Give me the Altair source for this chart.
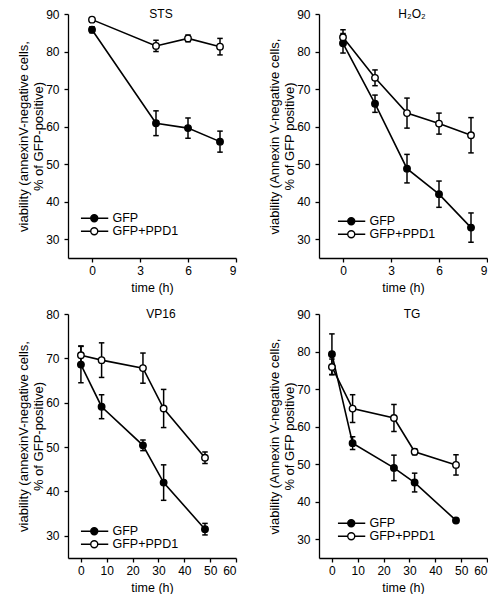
import altair as alt
import pandas as pd

series = ["GFP", "GFP+PPD1"]

sts_time = [0, 4, 6, 8]
sts_gfp = [85.8, 60.9, 59.6, 56.0]
sts_gfp_err = [0.8, 3.3, 2.7, 2.8]
sts_ppd1 = [88.5, 81.5, 83.5, 81.3]
sts_ppd1_err = [0.5, 1.5, 0.9, 2.2]

h2o2_time = [0, 2, 4, 6, 8]
h2o2_gfp = [82.2, 66.1, 48.8, 42.0, 33.1]
h2o2_gfp_err = [2.6, 2.3, 3.8, 3.5, 3.9]
h2o2_ppd1 = [83.8, 73.0, 63.6, 60.8, 57.7]
h2o2_ppd1_err = [2.0, 2.1, 4.0, 2.8, 4.7]

vp16_time = [0, 8, 24, 32, 48]
vp16_gfp = [68.6, 59.1, 50.4, 42.0, 31.5]
vp16_gfp_err = [4.1, 2.7, 1.2, 4.0, 1.3]
vp16_ppd1 = [70.7, 69.6, 67.8, 58.7, 47.6]
vp16_ppd1_err = [2.1, 3.9, 3.4, 4.3, 1.3]

tg_time = [0, 8, 24, 32, 48]
tg_gfp = [79.3, 55.6, 49.0, 45.1, 35.0]
tg_gfp_err = [5.4, 1.7, 3.4, 2.5, 0.0]
tg_ppd1 = [75.9, 64.8, 62.3, 53.3, 49.8]
tg_ppd1_err = [2.1, 3.7, 3.6, 0.8, 2.7]

ytitle_a = ["viability (annexinV-negative cells,", "% of GFP-positive)"]
ytitle_b = ["viability (Annexin V-negative cells,", "% of GFP positive)"]

FONT = "Liberation Sans"
SYMBOL = "M-3.8,0H-1M1,0H4M1,0A1,1,0,1,1,-1,0A1,1,0,1,1,1,0Z"
W, H = 168, 244


def panel(title, time, gfp, gfp_err, ppd1, ppd1_err, xdom, xticks, ydom, yticks, ytitle, lx, ly, rowpad):
    rows = []
    for s, vals, errs in [(series[0], gfp, gfp_err), (series[1], ppd1, ppd1_err)]:
        for t, v, e in zip(time, vals, errs):
            rows.append({"time": t, "viability": v, "lo": v - e, "hi": v + e, "series": s})
    df = pd.DataFrame(rows)
    base = alt.Chart(df)
    xscale = alt.Scale(domain=xdom, nice=False, zero=False)
    yscale = alt.Scale(domain=ydom, nice=False, zero=False)
    xaxis = alt.Axis(values=xticks, title="time (h)", labelOverlap=False, labelFontSize=12,
                     titleFontWeight="normal", titleFontSize=12.5, titlePadding=5, labelPadding=3)
    yaxis = alt.Axis(values=yticks, title=ytitle, labelOverlap=False, labelFontSize=12,
                     titleFontWeight="normal", titleFontSize=13, titleLineHeight=15,
                     titlePadding=0, labelPadding=5)
    x = alt.X("time:Q", scale=xscale, axis=xaxis)
    y = alt.Y("viability:Q", scale=yscale, axis=yaxis)
    ylo = alt.Y("lo:Q", scale=yscale, axis=yaxis)
    yhi = alt.Y("hi:Q", scale=yscale, axis=yaxis)
    line = base.mark_line(color="black", strokeWidth=1.6).encode(x=x, y=y, detail="series:N")
    bars = base.mark_rule(color="black", strokeWidth=1.5).encode(x=x, y=ylo, y2="hi:Q")
    cap_lo = base.mark_tick(orient="horizontal", color="black", size=5.5, thickness=1.5, opacity=1).encode(
        x=x, y=ylo)
    cap_hi = base.mark_tick(orient="horizontal", color="black", size=5.5, thickness=1.5, opacity=1).encode(
        x=x, y=yhi)
    pts = base.mark_point(shape="circle", filled=True, size=42, stroke="black", strokeWidth=1.4,
                          opacity=1).encode(
        x=x, y=y,
        fill=alt.Fill("series:N", scale=alt.Scale(domain=series, range=["black", "white"]),
                      legend=alt.Legend(orient="none", legendX=lx, legendY=ly, title=None,
                                        symbolType=SYMBOL, symbolSize=49,
                                        symbolStrokeColor="black", symbolStrokeWidth=1.4,
                                        labelFont=FONT, labelFontSize=12.5, labelColor="black",
                                        labelOffset=12, rowPadding=rowpad, padding=0)))
    label = alt.Chart(pd.DataFrame({"t": [title]})).mark_text(
        font=FONT, fontSize=12, color="black", baseline="middle", align="center").encode(
        text="t:N", x=alt.value(93), y=alt.value(0))
    return alt.layer(line, bars, cap_lo, cap_hi, pts, label).properties(width=W, height=H)


p1 = panel("STS", sts_time, sts_gfp, sts_gfp_err, sts_ppd1, sts_ppd1_err,
           [-1.5, 9], [0, 3, 6, 9], [25, 90], [30, 40, 50, 60, 70, 80, 90], ytitle_a, 20, 198, -3.5)
p2 = panel("H\u2082O\u2082", h2o2_time, h2o2_gfp, h2o2_gfp_err, h2o2_ppd1, h2o2_ppd1_err,
           [-1.5, 9], [0, 3, 6, 9], [25, 90], [30, 40, 50, 60, 70, 80, 90], ytitle_b, 26, 201, -1)
p3 = panel("VP16", vp16_time, vp16_gfp, vp16_gfp_err, vp16_ppd1, vp16_ppd1_err,
           [-5, 60], [0, 10, 20, 30, 40, 50, 60], [25, 80], [30, 40, 50, 60, 70, 80], ytitle_a, 20, 211, -1)
p4 = panel("TG", tg_time, tg_gfp, tg_gfp_err, tg_ppd1, tg_ppd1_err,
           [-5, 60], [0, 10, 20, 30, 40, 50, 60], [25, 90], [30, 40, 50, 60, 70, 80, 90], ytitle_b, 26, 203, -2)

top = alt.hconcat(p1, p2, spacing=31).resolve_scale(fill="independent").resolve_legend(fill="independent")
bottom = alt.hconcat(p3, p4, spacing=31).resolve_scale(fill="independent").resolve_legend(fill="independent")

chart = alt.vconcat(top, bottom, spacing=14).resolve_scale(fill="independent").resolve_legend(
    fill="independent").properties(padding={"left": 9, "top": 0, "right": 0, "bottom": 0}).configure(
    style={"guide-title": {"fontWeight": "normal"}}).configure_view(
    stroke=None).configure_axis(
    grid=False, domainColor="black", domainWidth=1.3, tickColor="black", tickWidth=1.3, tickSize=4,
    labelFont=FONT, labelFontSize=12, labelColor="black", titleFont=FONT, titleFontSize=12.5,
    titleFontWeight="normal", titleColor="black", labelOverlap=False)

chart.save("out.html", embed_options={"renderer": "svg", "actions": False})
